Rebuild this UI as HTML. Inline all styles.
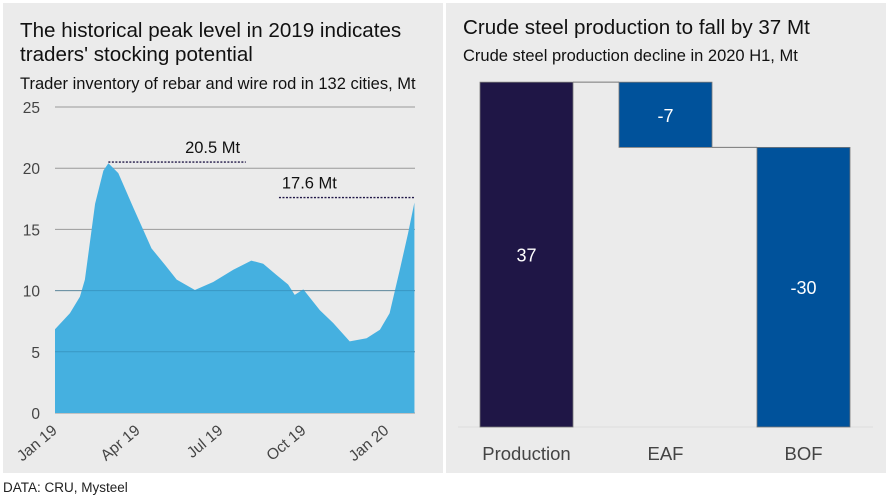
<!DOCTYPE html>
<html><head><meta charset="utf-8"><style>
body{margin:0;background:#fff;width:891px;height:502px;overflow:hidden;font-family:"Liberation Sans",sans-serif}
svg{display:block}
</style></head><body>
<svg width="891" height="502" font-family="Liberation Sans, sans-serif">
<rect x="3" y="3" width="440" height="470" fill="#ebebeb"/>
<rect x="446" y="3" width="440" height="470" fill="#ebebeb"/>
<text x="20" y="37" font-size="20.6" fill="#111">The historical peak level in 2019 indicates</text>
<text x="20" y="61" font-size="20.6" fill="#111">traders' stocking potential</text>
<text x="20" y="89" font-size="16.5" fill="#111">Trader inventory of rebar and wire rod in 132 cities, Mt</text>
<text x="463" y="34" font-size="20.6" fill="#111">Crude steel production to fall by 37 Mt</text>
<text x="463" y="61" font-size="16.5" fill="#111">Crude steel production decline in 2020 H1, Mt</text>
<text x="3" y="492" font-size="13.5" fill="#222">DATA: CRU, Mysteel</text>
<g id="left"></g>
<g id="right"></g>
</svg>
<script>
const months=[0,0.54,0.9,1.08,1.45,1.75,1.93,2.29,2.83,3.49,3.98,4.4,5.06,5.72,6.45,7.1,7.53,8.0,8.43,8.67,8.98,9.58,10.06,10.66,11.27,11.75,12.1,12.47,12.77,13.0];
const inventory=[6.85,8.15,9.5,10.9,17.1,19.8,20.4,19.6,16.8,13.45,12.1,10.9,10.05,10.7,11.7,12.45,12.2,11.3,10.5,9.65,10.1,8.4,7.35,5.85,6.1,6.8,8.15,11.7,14.7,17.2];
const yTicks=[0,5,10,15,20,25];
const xTickLabels=["Jan 19","Apr 19","Jul 19","Oct 19","Jan 20"];
const xTickMonths=[0,3,6,9,12];
const peaks=[{v:20.5,from:1.93,to:6.9,labelAt:5.7,label:"20.5 Mt"},{v:17.6,from:8.1,to:13.0,labelAt:9.2,label:"17.6 Mt"}];
const wfCats=["Production","EAF","BOF"];
const wfVals=[37,-7,-30];
const wfColors=["#1f1646","#00529b","#00529b"];

const NS="http://www.w3.org/2000/svg";
function mk(t,a,p){const e=document.createElementNS(NS,t);for(const k in a)e.setAttribute(k,a[k]);p.appendChild(e);return e;}
const L=document.getElementById('left');
const x=m=>55+m*27.65, y=v=>413-v*12.24;
yTicks.forEach(t=>{
  const g=mk('line',{x1:55,x2:415,y1:y(t),y2:y(t),stroke:'#9a9a9a','stroke-width':1},L);
  
  
  const tx=mk('text',{x:40,y:y(t)+6,'font-size':15.5,fill:'#444','text-anchor':'end'},L);tx.textContent=t;
  
  
});
let d='M'+x(months[0])+','+y(0);
months.forEach((m,i)=>{d+=' L'+x(m).toFixed(1)+','+y(inventory[i]).toFixed(1);});
d+=' L'+x(months[months.length-1])+','+y(0)+' Z';
const area=mk('path',{d:d,fill:'#45b0e0','stroke-linejoin':'round'},L);


[5,10].forEach(t=>{const g=mk('line',{x1:55,x2:415,y1:y(t),y2:y(t),stroke:'#2d7fa8','stroke-width':1,opacity:0.5},L);

});
peaks.forEach(p=>{
  const ln=mk('line',{x1:x(p.from),x2:x(p.to),y1:y(p.v),y2:y(p.v),stroke:'#1f1646','stroke-width':1.3,'stroke-dasharray':'2,1.5'},L);
  
  
  const tx=mk('text',{x:x(p.labelAt),y:y(p.v)-9,'font-size':16.5,fill:'#111','text-anchor':'middle'},L);tx.textContent=p.label;
  
  
});
xTickLabels.forEach((lb,i)=>{
  const xx=x(xTickMonths[i])+3;
  const tx=mk('text',{x:xx,y:432,'font-size':15.5,fill:'#444','text-anchor':'end',transform:`rotate(-40 ${xx} 432)`},L);tx.textContent=lb;
  
  
});
const R=document.getElementById('right');
const base=427, sc=9.32, bw=93, bx=[480,619,757];
const bl=mk('line',{x1:458,x2:873,y1:base,y2:base,stroke:'#dcdcdc'},R);


let cum=0;
wfVals.forEach((v,i)=>{
  const start=cum, end=i===0?v:cum+v;
  const top=base-Math.max(start,end)*sc, bot=base-Math.min(start,end)*sc;
  const r=mk('rect',{x:bx[i],y:top,width:bw,height:bot-top,fill:wfColors[i],stroke:'#777','stroke-width':0.8},R);
  
  
  const t=mk('text',{x:bx[i]+bw/2,y:(top+bot)/2+7,'font-size':18,fill:'#fff','text-anchor':'middle'},R);t.textContent=v;
  
  
  const c=mk('text',{x:bx[i]+bw/2,y:460,'font-size':18.5,fill:'#444','text-anchor':'middle'},R);c.textContent=wfCats[i];
  
  
  if(i<wfVals.length-1){
    const lv=base-end*sc;
    const cn=mk('line',{x1:bx[i]+bw,x2:bx[i+1],y1:lv,y2:lv,stroke:'#777','stroke-width':1},R);
    
    
  }
  cum=end;
});
</script>
</body></html>
